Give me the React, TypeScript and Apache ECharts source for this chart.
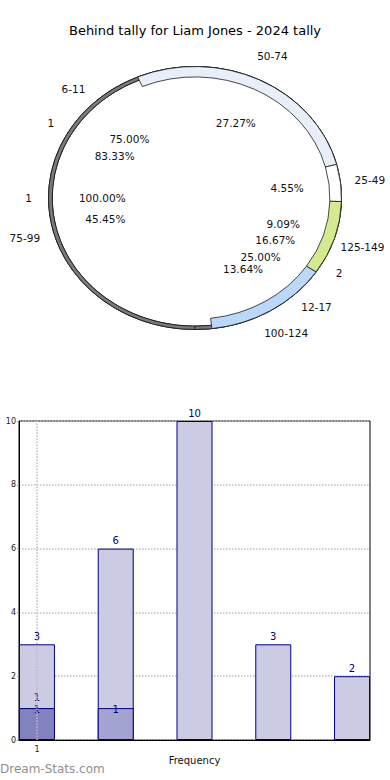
import React, { useEffect, useRef } from 'react';
import * as echarts from 'echarts';

const titleText = 'Behind tally for Liam Jones - 2024 tally';

// Outer ring
const ringCategories = ['50-74', '25-49', '125-149', '100-124', '75-99'];
const ringValues = [6, 1, 2, 3, 10];
const ringColors = ['#e9eefb', '#ffffff', '#d3ea8e', '#bad8fb', 'rgba(0,0,0,0)'];

// Inner rings
const innerACategories = ['6-11', '12-17'];
const innerAValues = [3, 1];
const innerBCategories = ['1', '2'];
const innerBValues = [5, 1];
const innerCCategories = ['1'];
const innerCValues = [1];

// Histogram
const barPositions = [1, 2, 3, 4, 5];
const barTotals = [3, 6, 10, 3, 2];
const barOverlayA = [1, 1, 0, 0, 0];
const barOverlayB = [1, 0, 0, 0, 0];
const xTickLabels = [1];

const FONT = 'DejaVu Sans';
const CENTER = [195, 198];
const R_OUT = 139;
const SX = 146.5 / R_OUT;
const SY = 131.5 / R_OUT;
const TRANSPARENT = 'rgba(0,0,0,0)';

function pctFormatter(p: any) {
  return Number(p.percent).toFixed(2) + '%';
}

function ellipseLayout(params: any) {
  const r = params.labelRect;
  const cx = r.x + r.width / 2;
  const cy = r.y + r.height / 2;
  return {
    x: CENTER[0] + (cx - CENTER[0]) * SX,
    y: CENTER[1] + (cy - CENTER[1]) * SY,
    align: 'center',
    verticalAlign: 'middle',
  };
}

function ringSeries(
  cats: string[],
  vals: number[],
  startAngle: number,
  radius: number[],
  colors: string[] | null
) {
  return {
    type: 'pie',
    center: CENTER,
    radius,
    startAngle,
    clockwise: true,
    silent: true,
    avoidLabelOverlap: false,
    emphasis: { disabled: true },
    label: { show: false },
    labelLine: { show: false },
    itemStyle: { color: '#7a7a7a', borderColor: '#111', borderWidth: 0.7 },
    data: cats.map((c, i) => ({
      name: c,
      value: vals[i],
      itemStyle: colors
        ? {
            color: colors[i],
            borderColor: colors[i] === TRANSPARENT ? TRANSPARENT : '#1a1a1a',
            borderWidth: colors[i] === TRANSPARENT ? 0 : 0.8,
          }
        : undefined,
    })),
  };
}

function labelSeries(cats: string[], vals: number[], startAngle: number, nameR: number) {
  const plain = cats.map((c, i) => ({ name: c, value: vals[i] }));
  const base = {
    type: 'pie',
    center: CENTER,
    startAngle,
    clockwise: true,
    silent: true,
    avoidLabelOverlap: false,
    emphasis: { disabled: true },
    labelLine: { show: false },
    itemStyle: { color: TRANSPARENT, borderWidth: 0 },
    labelLayout: ellipseLayout,
    data: plain,
  };
  const lbl = { show: true, position: 'inside', rotate: 0, color: '#111', fontFamily: FONT, fontSize: 10.5 };
  return [
    { ...base, radius: [nameR - 10, nameR + 10], label: { ...lbl, formatter: '{b}' } },
    { ...base, radius: [71, 99], label: { ...lbl, formatter: pctFormatter } },
  ];
}

function nonZero(vals: number[]) {
  return barPositions.map((x, i) => [x, vals[i]]).filter((d) => d[1] !== 0);
}

export default function App() {
  const ringRef = useRef<HTMLDivElement>(null);
  const mainRef = useRef<HTMLDivElement>(null);

  useEffect(() => {
    document.body.style.margin = '0';
    if (!ringRef.current || !mainRef.current) return;
    const ringChart = echarts.init(ringRef.current, null, { renderer: 'svg' });
    const chart = echarts.init(mainRef.current, null, { renderer: 'svg' });

    const thin = [R_OUT - 3.5, R_OUT];
    ringChart.setOption({
      animation: false,
      series: [
        ringSeries(innerCCategories, innerCValues, 0, thin, null),
        ringSeries(innerBCategories, innerBValues, 300, thin, null),
        ringSeries(innerACategories, innerAValues, 270, thin, null),
        ringSeries(ringCategories, ringValues, 113, [R_OUT - 11, R_OUT], ringColors),
      ],
    });

    const series: any[] = [
      ...labelSeries(innerCCategories, innerCValues, 0, 155),
      ...labelSeries(innerBCategories, innerBValues, 300, 155),
      ...labelSeries(innerACategories, innerAValues, 270, 160),
      ...labelSeries(ringCategories, ringValues, 113, 164),
    ];

    const barLabel = { color: '#000080', fontFamily: FONT, fontSize: 10 };

    series.push(
      {
        type: 'bar',
        barWidth: 36,
        barGap: '-100%',
        itemStyle: { color: '#cbcbe4', borderColor: '#000080', borderWidth: 1 },
        label: { show: true, position: 'top', distance: 3, ...barLabel },
        data: nonZero(barTotals),
        markLine: {
          silent: true,
          symbol: 'none',
          label: { show: false },
          lineStyle: { color: '#bdbdbd', type: 'dotted', width: 1.5 },
          data: xTickLabels.map((v) => ({ xAxis: v })),
        },
      },
      {
        type: 'bar',
        barWidth: 36,
        barGap: '-100%',
        itemStyle: { color: '#a3a3d2', borderColor: '#000080', borderWidth: 1 },
        label: { show: true, position: 'top', distance: -6, ...barLabel },
        data: nonZero(barOverlayA),
      },
      {
        type: 'bar',
        barWidth: 36,
        barGap: '-100%',
        itemStyle: { color: '#8282c0', borderColor: '#000080', borderWidth: 1 },
        label: { show: true, position: 'top', distance: 6, ...barLabel },
        data: nonZero(barOverlayB),
      }
    );

    chart.setOption({
      animation: false,
      textStyle: { fontFamily: FONT },
      title: {
        text: titleText,
        left: 'center',
        top: 19,
        textStyle: { fontFamily: FONT, fontSize: 13, fontWeight: 'normal', color: '#000' },
      },
      graphic: [
        {
          type: 'text',
          left: 0,
          top: 763,
          style: { text: 'Dream-Stats.com', fill: '#8f8f8f', font: '12px "DejaVu Sans"' },
        },
      ],
      grid: {
        left: 19,
        right: 20,
        top: 421,
        bottom: 40,
        outerBoundsMode: 'none',
        containLabel: false,
        show: true,
        borderColor: '#000',
        borderWidth: 1,
        backgroundColor: TRANSPARENT,
      },
      xAxis: {
        type: 'value',
        min: 0.772,
        max: 5.228,
        name: 'Frequency',
        nameLocation: 'middle',
        nameGap: 15,
        nameTextStyle: { fontFamily: FONT, fontSize: 10, color: '#111' },
        axisLine: { show: true, lineStyle: { color: '#000' } },
        axisTick: { show: false },
        splitLine: { show: false },
        axisLabel: {
          customValues: xTickLabels,
          fontFamily: FONT,
          fontSize: 8,
          color: '#222',
          margin: 5,
        },
      },
      yAxis: {
        type: 'value',
        min: 0,
        max: 10,
        interval: 2,
        name: 'Number of Tallies',
        nameLocation: 'middle',
        nameGap: 16,
        nameTextStyle: { fontFamily: FONT, fontSize: 10, color: '#111' },
        axisLine: { show: true, lineStyle: { color: '#000' } },
        axisTick: { show: true, length: 2, lineStyle: { color: '#999' } },
        splitLine: { show: true, lineStyle: { color: '#bdbdbd', type: 'dotted', width: 1.5 } },
        axisLabel: { fontFamily: FONT, fontSize: 8, color: '#222', margin: 3 },
      },
      series,
    });

    return () => {
      ringChart.dispose();
      chart.dispose();
    };
  }, []);

  return (
    <div style={{ position: 'relative', width: 390, height: 780 }}>
      <div
        ref={ringRef}
        style={{
          position: 'absolute',
          left: 0,
          top: 0,
          width: 390,
          height: 400,
          transformOrigin: `${CENTER[0]}px ${CENTER[1]}px`,
          transform: `scale(${SX}, ${SY})`,
        }}
      />
      <div ref={mainRef} style={{ position: 'absolute', left: 0, top: 0, width: 390, height: 780 }} />
    </div>
  );
}
